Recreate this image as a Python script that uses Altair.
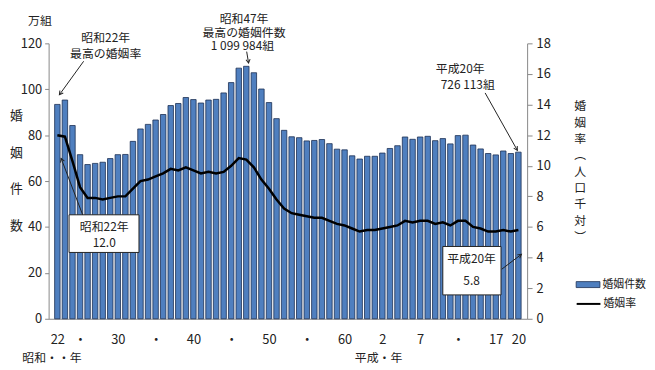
import altair as alt
import pandas as pd

FONT = "Noto Sans CJK JP"

years = list(range(1947, 2009))
marriages = [93.4, 95.3, 84.2, 71.5, 67.2, 67.7, 68.2, 69.8, 71.5, 71.6,
             77.3, 82.7, 84.7, 86.6, 89.0, 92.9, 93.8, 96.4, 95.5, 94.0,
             95.3, 95.6, 98.4, 102.9, 109.2, 110.0, 107.2, 100.1, 94.2, 87.2,
             82.1, 79.3, 78.9, 77.5, 77.7, 78.1, 76.3, 73.9, 73.6, 71.0,
             69.6, 70.8, 70.8, 72.2, 74.2, 75.4, 79.2, 78.2, 79.2, 79.5,
             77.6, 78.5, 76.2, 79.8, 80.0, 75.7, 74.0, 72.0, 71.4, 73.1,
             72.0, 72.6]
rates = [12.0, 11.9, 10.3, 8.6, 7.9, 7.9, 7.8, 7.9, 8.0, 8.0,
         8.5, 9.0, 9.1, 9.3, 9.5, 9.8, 9.7, 9.9, 9.7, 9.5,
         9.6, 9.5, 9.6, 10.0, 10.5, 10.4, 9.9, 9.1, 8.5, 7.8,
         7.2, 6.9, 6.8, 6.7, 6.6, 6.6, 6.4, 6.2, 6.1, 5.9,
         5.7, 5.8, 5.8, 5.9, 6.0, 6.1, 6.4, 6.3, 6.4, 6.4,
         6.2, 6.3, 6.1, 6.4, 6.4, 6.0, 5.9, 5.7, 5.7, 5.8,
         5.7, 5.8]

tick_years = [1947, 1950, 1955, 1960, 1965, 1970, 1975, 1980, 1985, 1990, 1995, 2000, 2005, 2008]
tick_labels = ["22", "・", "30", "・", "40", "・", "50", "・", "60", "2", "7", "・", "17", "20"]

bar_name = "婚姻件数"
line_name = "婚姻率"

# annotation texts (in data coordinates: year, 万組)
ann_text = ["昭和22年", "最高の婚姻率",
            "昭和47年", "最高の婚姻件数", "1 099 984組",
            "平成20年", "726 113組",
            "昭和22年", "12.0",
            "平成20年", "5.8",
            "万組", "昭和・・年", "平成・年"]
ann_x = [1953.4, 1953.4,
         1971.7, 1971.7, 1971.5,
         2000.3, 2001.3,
         1953.2, 1953.2,
         2001.8, 2001.8,
         1944.7, 1946.3, 1989.5]
ann_y = [122.4, 115.4,
         130.8, 124.7, 118.7,
         108.8, 101.9,
         40.1, 33.2,
         25.9, 16.4,
         129.9, -17.2, -17.2]

# callout boxes
box_x = [1948.55, 1998.0]
box_x2 = [1957.8, 2005.7]
box_y = [45.3, 31.5]
box_y2 = [28.9, 10.4]

# pointer lines (from -> to) with arrowhead angle at the tip
arr_x = [1950.48, 1972.05, 2003.6, 1950.35, 2005.8]
arr_y = [112.2, 116.4, 98.4, 45.3, 21.6]
arr_x2 = [1947.27, 1972.3, 2007.86, 1947.5, 2008.4]
arr_y2 = [97.6, 111.4, 73.4, 69.9, 28.1]
arr_angle = [216, 172, 150, 339, 53]

df = pd.DataFrame({"year": years, "count": marriages, "rate": rates,
                   "bs": bar_name, "ls": line_name})
ann = pd.DataFrame({"x": ann_x, "y": ann_y, "text": ann_text})
boxes = pd.DataFrame({"x": box_x, "x2": box_x2, "y": box_y, "y2": box_y2})
arrows = pd.DataFrame({"x": arr_x, "y": arr_y, "x2": arr_x2, "y2": arr_y2, "a": arr_angle})

expr = ""
for y_, l_ in zip(tick_years, tick_labels):
    expr += f"datum.value == {y_} ? '{l_}' : "
expr += "''"

xdom = [1946.5, 2008.5]
xscale = alt.Scale(domain=xdom, nice=False, zero=False)
lscale = alt.Scale(domain=[0, 120], nice=False)
rscale = alt.Scale(domain=[0, 18], nice=False)

x_axis = alt.Axis(values=tick_years, labelExpr=expr, ticks=False, grid=False,
                  domainColor="#888888", labelPadding=15, labelFontSize=13,
                  labelFont=FONT, labelColor="#222222", title=None, labelFlush=False,
                  labelOverlap=False)


def X(field):
    return alt.X(field, scale=xscale, axis=x_axis)


bars = alt.Chart(df).mark_bar(size=5.5, stroke="#1c2f52", strokeWidth=0.8).encode(
    x=X("year:Q"),
    y=alt.Y("count:Q", scale=lscale,
            axis=alt.Axis(values=[0, 20, 40, 60, 80, 100, 120], grid=False,
                          domainColor="#888888", tickColor="#888888", tickSize=4,
                          labelFont=FONT, labelFontSize=13, labelColor="#222222",
                          labelPadding=3,
                          title=["婚", "姻", "件", "数"], titleAngle=0,
                          titleFont=FONT, titleFontSize=13, titleFontWeight="normal",
                          titleColor="#222222", titleLineHeight=37,
                          titleX=-33, titleY=67, titleBaseline="top", titleAlign="center")),
    fill=alt.Fill("bs:N", scale=alt.Scale(range=["#4f7fbf"]),
                  legend=alt.Legend(title=None, orient="none", legendX=532, legendY=231,
                                    symbolType="M-1,-0.25 H1 V0.25 H-1 Z", symbolSize=576,
                                    symbolStrokeColor="#1c2f52", symbolStrokeWidth=0.8,
                                    labelFont=FONT, labelFontSize=11, labelColor="#222222",
                                    labelOffset=2)),
)

line = alt.Chart(df).mark_line(strokeWidth=2.5).encode(
    x=X("year:Q"),
    y=alt.Y("rate:Q", scale=rscale,
            axis=alt.Axis(orient="right", values=[0, 2, 4, 6, 8, 10, 12, 14, 16, 18],
                          grid=False, domainColor="#888888", tickColor="#888888",
                          tickSize=5, labelFont=FONT, labelFontSize=13,
                          labelColor="#222222", labelPadding=4,
                          title=["婚", "姻", "率", "︵", "人", "口", "千", "対", "︶"],
                          titleAngle=0, titleFont=FONT, titleFontSize=12,
                          titleFontWeight="normal", titleColor="#222222",
                          titleLineHeight=16.5, titleX=53, titleY=58,
                          titleBaseline="top", titleAlign="center")),
    stroke=alt.Stroke("ls:N", scale=alt.Scale(range=["#000000"]),
                      legend=alt.Legend(title=None, orient="none", legendX=532, legendY=250,
                                        symbolType="stroke", symbolSize=576,
                                        symbolStrokeWidth=2,
                                        labelFont=FONT, labelFontSize=11,
                                        labelColor="#222222", labelOffset=2)),
)

noaxis_y = alt.Y("y:Q", scale=lscale, axis=None)

box_layer = alt.Chart(boxes).mark_rect(fill="white", stroke="#222222", strokeWidth=1).encode(
    x=X("x:Q"), x2="x2:Q", y=noaxis_y, y2="y2:Q")

rule_layer = alt.Chart(arrows).mark_rule(color="#222222", strokeWidth=1).encode(
    x=X("x:Q"), x2="x2:Q", y=noaxis_y, y2="y2:Q")

head_layer = alt.Chart(arrows).mark_point(
    shape="M-0.5,0.9 L0,0 L0.5,0.9", filled=False, size=70, color="#222222",
    strokeWidth=1, opacity=1).encode(
    x=X("x2:Q"),
    y=alt.Y("y2:Q", scale=lscale, axis=None),
    angle=alt.Angle("a:Q", scale=None))

text_layer = alt.Chart(ann).mark_text(font=FONT, fontSize=12, color="#222222",
                                      baseline="middle", align="center").encode(
    x=X("x:Q"), y=noaxis_y, text="text:N")

chart = alt.layer(bars, line, box_layer, rule_layer, head_layer, text_layer).resolve_scale(
    y="independent", fill="independent", stroke="independent"
).properties(
    width=483, height=278,
    autosize=alt.AutoSizeParams(type="none"),
    padding={"left": 41, "top": 34, "right": 121, "bottom": 48},
).configure_view(stroke=None)

chart.save("out.html", embed_options={"renderer": "svg", "actions": False})
